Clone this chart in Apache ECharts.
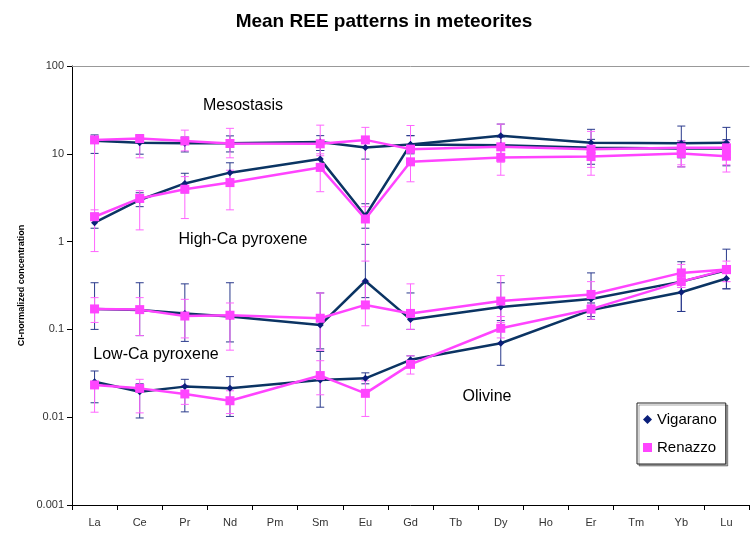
<!DOCTYPE html>
<html>
<head>
<meta charset="utf-8">
<script src="https://cdn.jsdelivr.net/npm/echarts@6/dist/echarts.min.js"></script>
<style>
  html, body { margin: 0; padding: 0; background: #fff; }
  #chart { width: 751px; height: 534px; }
</style>
</head>
<body>
<div id="chart"></div>
<script>
// REE categories and y tick labels
const categories = ['La', 'Ce', 'Pr', 'Nd', 'Pm', 'Sm', 'Eu', 'Gd', 'Tb', 'Dy', 'Ho', 'Er', 'Tm', 'Yb', 'Lu'];
const yTickLabels = ['0.001', '0.01', '0.1', '1', '10', '100'];

// Mesostasis
const mesoVig   = [14.1, 13.4, 13.2, 13.2, null, 13.6, 11.8, 12.8, null, 16.1, null, 13.4, null, 13.2, 13.4];
const mesoVigHi = [16.4, 16.4, 15.5, 16.0, null, 16.1, 14.5, 16.1, null, 21.8, null, 19.0, null, 20.7, 20.0];
const mesoVigLo = [10.1, 9.9, 10.5, 10.5, null, 10.9, 8.7, 11.0, null, 12.5, null, 7.6, null, 7.1, 7.3];
const mesoRen   = [14.4, 14.9, 14.0, 13.1, null, 13.0, 14.4, 11.3, null, 12.0, null, 11.3, null, 11.7, 11.7];
const mesoRenHi = [15.5, 16.0, 18.6, 19.5, null, 21.2, 20.0, 21.0, null, 21.8, null, 18.0, null, 14.0, 14.0];
const mesoRenLo = [2.0, 9.0, 10.8, 9.0, null, 10.0, 2.0, 8.0, null, 8.0, null, 7.0, null, 7.5, 7.5];

// High-Ca pyroxene
const hcaVig   = [1.64, 2.98, 4.6, 6.1, null, 8.7, 1.97, 12.8, null, 12.5, null, 11.7, null, 11.5, 11.5];
const hcaVigHi = [2.1, 3.6, 6.0, 7.9, null, 10.9, 2.7, 16.1, null, 15.5, null, 14.6, null, 14.0, 14.5];
const hcaVigLo = [1.42, 2.5, 3.6, 4.5, null, 6.5, 1.42, 10.0, null, 10.0, null, 9.5, null, 9.0, 9.0];
const hcaRen   = [1.92, 3.1, 3.95, 4.7, null, 7.0, 1.81, 8.1, null, 9.1, null, 9.3, null, 10.1, 9.4];
const hcaRenHi = [2.3, 3.8, 5.5, 6.5, null, 9.5, 2.5, 11.3, null, 12.0, null, 12.0, null, 12.5, 12.0];
const hcaRenLo = [0.77, 1.36, 1.83, 2.3, null, 3.7, 0.6, 4.8, null, 5.7, null, 5.7, null, 7.1, 6.2];

// Low-Ca pyroxene
const lcaVig   = [0.171, 0.166, 0.152, 0.14, null, 0.112, 0.356, 0.130, null, 0.18, null, 0.222, null, 0.35, 0.47];
const lcaVigHi = [0.34, 0.34, 0.33, 0.34, null, 0.26, 0.93, 0.26, null, 0.34, null, 0.44, null, 0.59, 0.82];
const lcaVigLo = [0.10, 0.085, 0.073, 0.072, null, 0.06, 0.23, 0.10, null, 0.11, null, 0.14, null, 0.16, 0.29];
const lcaRen   = [0.171, 0.168, 0.142, 0.145, null, 0.134, 0.19, 0.152, null, 0.21, null, 0.25, null, 0.44, 0.48];
const lcaRenHi = [0.23, 0.23, 0.22, 0.20, null, 0.26, 0.35, 0.33, null, 0.41, null, 0.35, null, 0.55, 0.60];
const lcaRenLo = [0.12, 0.085, 0.08, 0.058, null, 0.058, 0.11, 0.10, null, 0.12, null, 0.16, null, 0.30, 0.35];

// Olivine
const olVig   = [0.0254, 0.0195, 0.0223, 0.0213, null, 0.0265, 0.0277, 0.045, null, 0.0695, null, 0.166, null, 0.265, 0.38];
const olVigHi = [0.0336, 0.024, 0.027, 0.029, null, 0.056, 0.032, 0.05, null, 0.126, null, 0.20, null, 0.38, 0.50];
const olVigLo = [0.0146, 0.0098, 0.0115, 0.0102, null, 0.013, 0.024, 0.037, null, 0.039, null, 0.13, null, 0.16, 0.29];
const olRen   = [0.0233, 0.0213, 0.0184, 0.0154, null, 0.0298, 0.0187, 0.040, null, 0.103, null, 0.17, null, 0.35, 0.48];
const olRenHi = [0.025, 0.027, 0.023, 0.02, null, 0.044, 0.026, 0.05, null, 0.14, null, 0.19, null, 0.38, 0.50];
const olRenLo = [0.0114, 0.0112, 0.014, 0.011, null, 0.018, 0.0102, 0.031, null, 0.08, null, 0.13, null, 0.30, 0.35];

const font = "'Liberation Sans', Arial, sans-serif";
const vigLine = '#0b3463';
const vigMark = '#0a1f7a';
const vigErr = '#2a3a8c';
const renColor = '#ff44ff';
const renErr = '#ff66ff';

function errData(vals, lo, hi) {
  const out = [];
  vals.forEach((v, i) => {
    if (v != null) out.push([i, lo[i], hi[i]]);
  });
  return out;
}

function errSeries(name, vals, lo, hi, color) {
  return {
    name: name,
    type: 'custom',
    z: 1,
    data: errData(vals, lo, hi),
    encode: { x: 0, y: [1, 2] },
    renderItem: function (params, api) {
      const i = api.value(0);
      const lowPt = api.coord([i, api.value(1)]);
      const hiPt = api.coord([i, api.value(2)]);
      const cap = 4;
      const style = { stroke: color, lineWidth: 1 };
      return {
        type: 'group',
        children: [
          { type: 'line', shape: { x1: lowPt[0], y1: lowPt[1], x2: hiPt[0], y2: hiPt[1] }, style: style },
          { type: 'line', shape: { x1: hiPt[0] - cap, y1: hiPt[1], x2: hiPt[0] + cap, y2: hiPt[1] }, style: style },
          { type: 'line', shape: { x1: lowPt[0] - cap, y1: lowPt[1], x2: lowPt[0] + cap, y2: lowPt[1] }, style: style }
        ]
      };
    }
  };
}

function vigSeries(vals) {
  return {
    name: 'Vigarano',
    type: 'line',
    z: 3,
    data: vals,
    connectNulls: true,
    symbol: 'diamond',
    symbolSize: 7,
    itemStyle: { color: vigMark },
    lineStyle: { color: vigLine, width: 2.5 },
    emphasis: { disabled: true }
  };
}

function renSeries(vals) {
  return {
    name: 'Renazzo',
    type: 'line',
    z: 4,
    data: vals,
    connectNulls: true,
    symbol: 'rect',
    symbolSize: 9,
    itemStyle: { color: renColor },
    lineStyle: { color: renColor, width: 2.5 },
    emphasis: { disabled: true }
  };
}

const chart = echarts.init(document.getElementById('chart'), null, { renderer: 'canvas' });

const option = {
  animation: false,
  backgroundColor: '#fff',
  textStyle: { fontFamily: font },
  title: {
    text: 'Mean REE patterns in meteorites',
    left: 379,
    top: 7,
    textAlign: 'center',
    textStyle: { fontFamily: font, fontSize: 19, fontWeight: 'bold', color: '#000' }
  },
  legend: {
    orient: 'vertical',
    left: 637,
    top: 403,
    padding: [9, 9, 9, 6],
    itemGap: 13,
    itemWidth: 9,
    itemHeight: 9,
    borderColor: '#222',
    borderWidth: 1,
    shadowColor: 'rgba(0,0,0,0.35)',
    shadowOffsetX: 2,
    shadowOffsetY: 2,
    backgroundColor: '#fff',
    textStyle: { fontFamily: font, fontSize: 15, color: '#000' },
    data: [
      { name: 'Vigarano', icon: 'diamond', itemStyle: { color: vigMark } },
      { name: 'Renazzo', icon: 'rect', itemStyle: { color: renColor } }
    ]
  },
  grid: { left: 72, right: 2, top: 66, bottom: 29 },
  xAxis: [{
    type: 'category',
    data: categories,
    boundaryGap: true,
    axisLine: { lineStyle: { color: '#000', width: 1 } },
    axisTick: { show: true, length: 5, interval: 0, lineStyle: { color: '#000' } },
    axisLabel: { interval: 0, fontFamily: font, fontSize: 11, color: '#333', margin: 12 },
    splitLine: { show: false }
  }, {
    type: 'category',
    data: categories,
    position: 'top',
    axisLine: { lineStyle: { color: '#999', width: 1 } },
    axisTick: { show: false },
    axisLabel: { show: false },
    splitLine: { show: false }
  }],
  yAxis: {
    type: 'log',
    logBase: 10,
    min: 0.001,
    max: 100,
    name: 'CI-normalized concentration',
    nameLocation: 'middle',
    nameGap: 46,
    nameTextStyle: { fontFamily: font, fontSize: 9, fontWeight: 'bold', color: '#000' },
    axisLine: { show: true, lineStyle: { color: '#000', width: 1 } },
    axisTick: { show: true, length: 5, lineStyle: { color: '#000' } },
    minorTick: { show: false },
    splitLine: { show: false },
    axisLabel: {
      fontFamily: font,
      fontSize: 11,
      color: '#333',
      margin: 8,
      formatter: function (v) {
        return yTickLabels[Math.round(Math.log10(v)) + 3];
      }
    }
  },
  graphic: [
    { type: 'text', x: 243, y: 106, style: { text: 'Mesostasis', font: '16px ' + font, fill: '#000', textAlign: 'center', textVerticalAlign: 'middle' } },
    { type: 'text', x: 243, y: 240, style: { text: 'High-Ca pyroxene', font: '16px ' + font, fill: '#000', textAlign: 'center', textVerticalAlign: 'middle' } },
    { type: 'text', x: 156, y: 355, style: { text: 'Low-Ca pyroxene', font: '16px ' + font, fill: '#000', textAlign: 'center', textVerticalAlign: 'middle' } },
    { type: 'text', x: 487, y: 397, style: { text: 'Olivine', font: '16px ' + font, fill: '#000', textAlign: 'center', textVerticalAlign: 'middle' } }
  ],
  series: [
    errSeries('Vigarano', mesoVig, mesoVigLo, mesoVigHi, vigErr),
    errSeries('Vigarano', hcaVig, hcaVigLo, hcaVigHi, vigErr),
    errSeries('Vigarano', lcaVig, lcaVigLo, lcaVigHi, vigErr),
    errSeries('Vigarano', olVig, olVigLo, olVigHi, vigErr),
    errSeries('Renazzo', mesoRen, mesoRenLo, mesoRenHi, renErr),
    errSeries('Renazzo', hcaRen, hcaRenLo, hcaRenHi, renErr),
    errSeries('Renazzo', lcaRen, lcaRenLo, lcaRenHi, renErr),
    errSeries('Renazzo', olRen, olRenLo, olRenHi, renErr),
    vigSeries(mesoVig),
    vigSeries(hcaVig),
    vigSeries(lcaVig),
    vigSeries(olVig),
    renSeries(mesoRen),
    renSeries(hcaRen),
    renSeries(lcaRen),
    renSeries(olRen)
  ]
};

chart.setOption(option);
</script>
</body>
</html>
